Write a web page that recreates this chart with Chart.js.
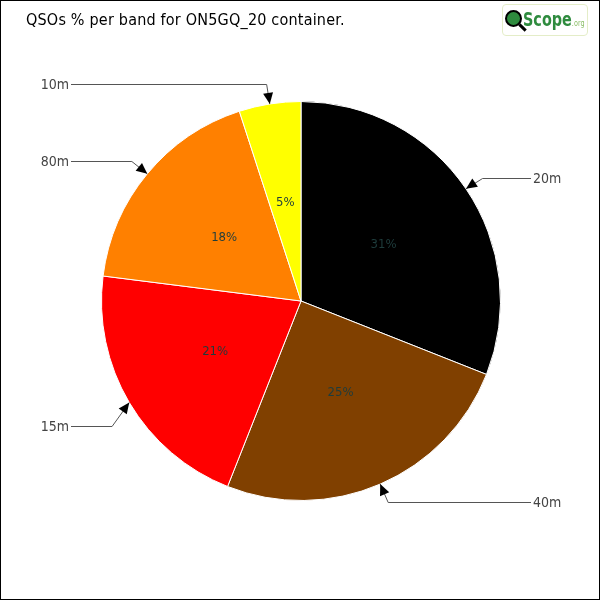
<!DOCTYPE html>
<html><head><meta charset="utf-8">
<script src="https://cdn.jsdelivr.net/npm/chart.js@4"></script>
<style>
html,body{margin:0;padding:0;background:#fff;}
#wrap{position:relative;width:600px;height:600px;box-sizing:border-box;border:1px solid #000;overflow:hidden;}
#c{position:absolute;left:-1px;top:-1px;}
#title{position:absolute;left:25px;top:9px;font-family:"DejaVu Sans Condensed","DejaVu Sans",sans-serif;font-size:16px;color:#000;letter-spacing:0.2px;}
#logo{position:absolute;left:501px;top:3px;width:86px;height:32px;border:1px solid #e4edc8;border-radius:4px;box-sizing:border-box;}
#logo .q{position:absolute;left:2px;top:5px;width:17px;height:17px;border-radius:50%;background:#2e8b3e;border:2px solid #000;box-sizing:border-box;}
#logo .h{position:absolute;left:15px;top:21px;width:9px;height:3px;background:#000;transform:rotate(45deg);}
#logo .t{position:absolute;left:20px;top:2px;font-family:"DejaVu Sans Condensed","DejaVu Sans",sans-serif;font-size:20px;font-weight:bold;color:#2e8b3e;transform:scaleX(0.8);transform-origin:left top;white-space:nowrap;}
#logo .o{font-size:9px;font-weight:normal;color:#8dbf6a;}
</style></head>
<body>
<div id="wrap">
<canvas id="c" width="600" height="600"></canvas>
<div id="title">QSOs % per band for ON5GQ_20 container.</div>
<div id="logo"><div class="q"></div><div class="h"></div><div class="t">Scope<span class="o">.org</span></div></div>
</div>
<script>
const bands = ['20m','40m','15m','80m','10m'];
const percents = [31,25,21,18,5];
const sliceColors = ['#000000','#804000','#ff0000','#ff8000','#ffff00'];

const calloutPlugin = {
  id:'callouts',
  afterDatasetsDraw(chart){
    const ctx = chart.ctx;
    const meta = chart.getDatasetMeta(0);
    meta.data.forEach((arc,i)=>{
      const p = arc.getProps(['x','y','startAngle','endAngle','outerRadius'],true);
      const mid = (p.startAngle+p.endAngle)/2;
      const r = p.outerRadius;
      const cx = Math.cos(mid), sy = Math.sin(mid);
      ctx.save();
      ctx.font = '13px "DejaVu Sans Condensed","DejaVu Sans",sans-serif';
      ctx.fillStyle = '#1e3c3c';
      ctx.textAlign='center'; ctx.textBaseline='middle';
      ctx.fillText(percents[i]+'%', p.x+cx*r*0.5, p.y+sy*r*0.5);
      const tx = p.x+cx*r, ty = p.y+sy*r;
      let ex = tx+cx*20, ey = ty+sy*20;
      if (bands[i]==='15m') { ey += 13; }
      const right = cx>0;
      const endX = right? p.x+230 : p.x-230;
      ctx.strokeStyle='#555'; ctx.lineWidth=1;
      ctx.beginPath(); ctx.moveTo(endX, Math.round(ey)+0.5); ctx.lineTo(ex, Math.round(ey)+0.5); ctx.lineTo(tx,ty); ctx.stroke();
      const ang = Math.atan2(ty-ey, tx-ex);
      const L=11, W=5;
      ctx.fillStyle='#000';
      ctx.beginPath();
      ctx.moveTo(tx,ty);
      ctx.lineTo(tx-L*Math.cos(ang)+W*Math.sin(ang), ty-L*Math.sin(ang)-W*Math.cos(ang));
      ctx.lineTo(tx-L*Math.cos(ang)-W*Math.sin(ang), ty-L*Math.sin(ang)+W*Math.cos(ang));
      ctx.closePath(); ctx.fill();
      ctx.font = '14px "DejaVu Sans Condensed","DejaVu Sans",sans-serif';
      ctx.fillStyle='#444';
      ctx.textBaseline='middle';
      ctx.textAlign = right?'left':'right';
      ctx.fillText(bands[i], right? endX+2 : endX-2, Math.round(ey)+1);
      ctx.restore();
    });
  }
};

new Chart(document.getElementById('c'),{
  type:'pie',
  data:{labels:bands,datasets:[{data:percents,backgroundColor:sliceColors,borderColor:'#ffffff',borderWidth:1}]},
  options:{
    responsive:false,animation:false,
    layout:{padding:{left:101,right:99,top:101,bottom:99}},
    plugins:{legend:{display:false},tooltip:{enabled:false},title:{display:false}}
  },
  plugins:[calloutPlugin]
});
</script>
</body></html>
